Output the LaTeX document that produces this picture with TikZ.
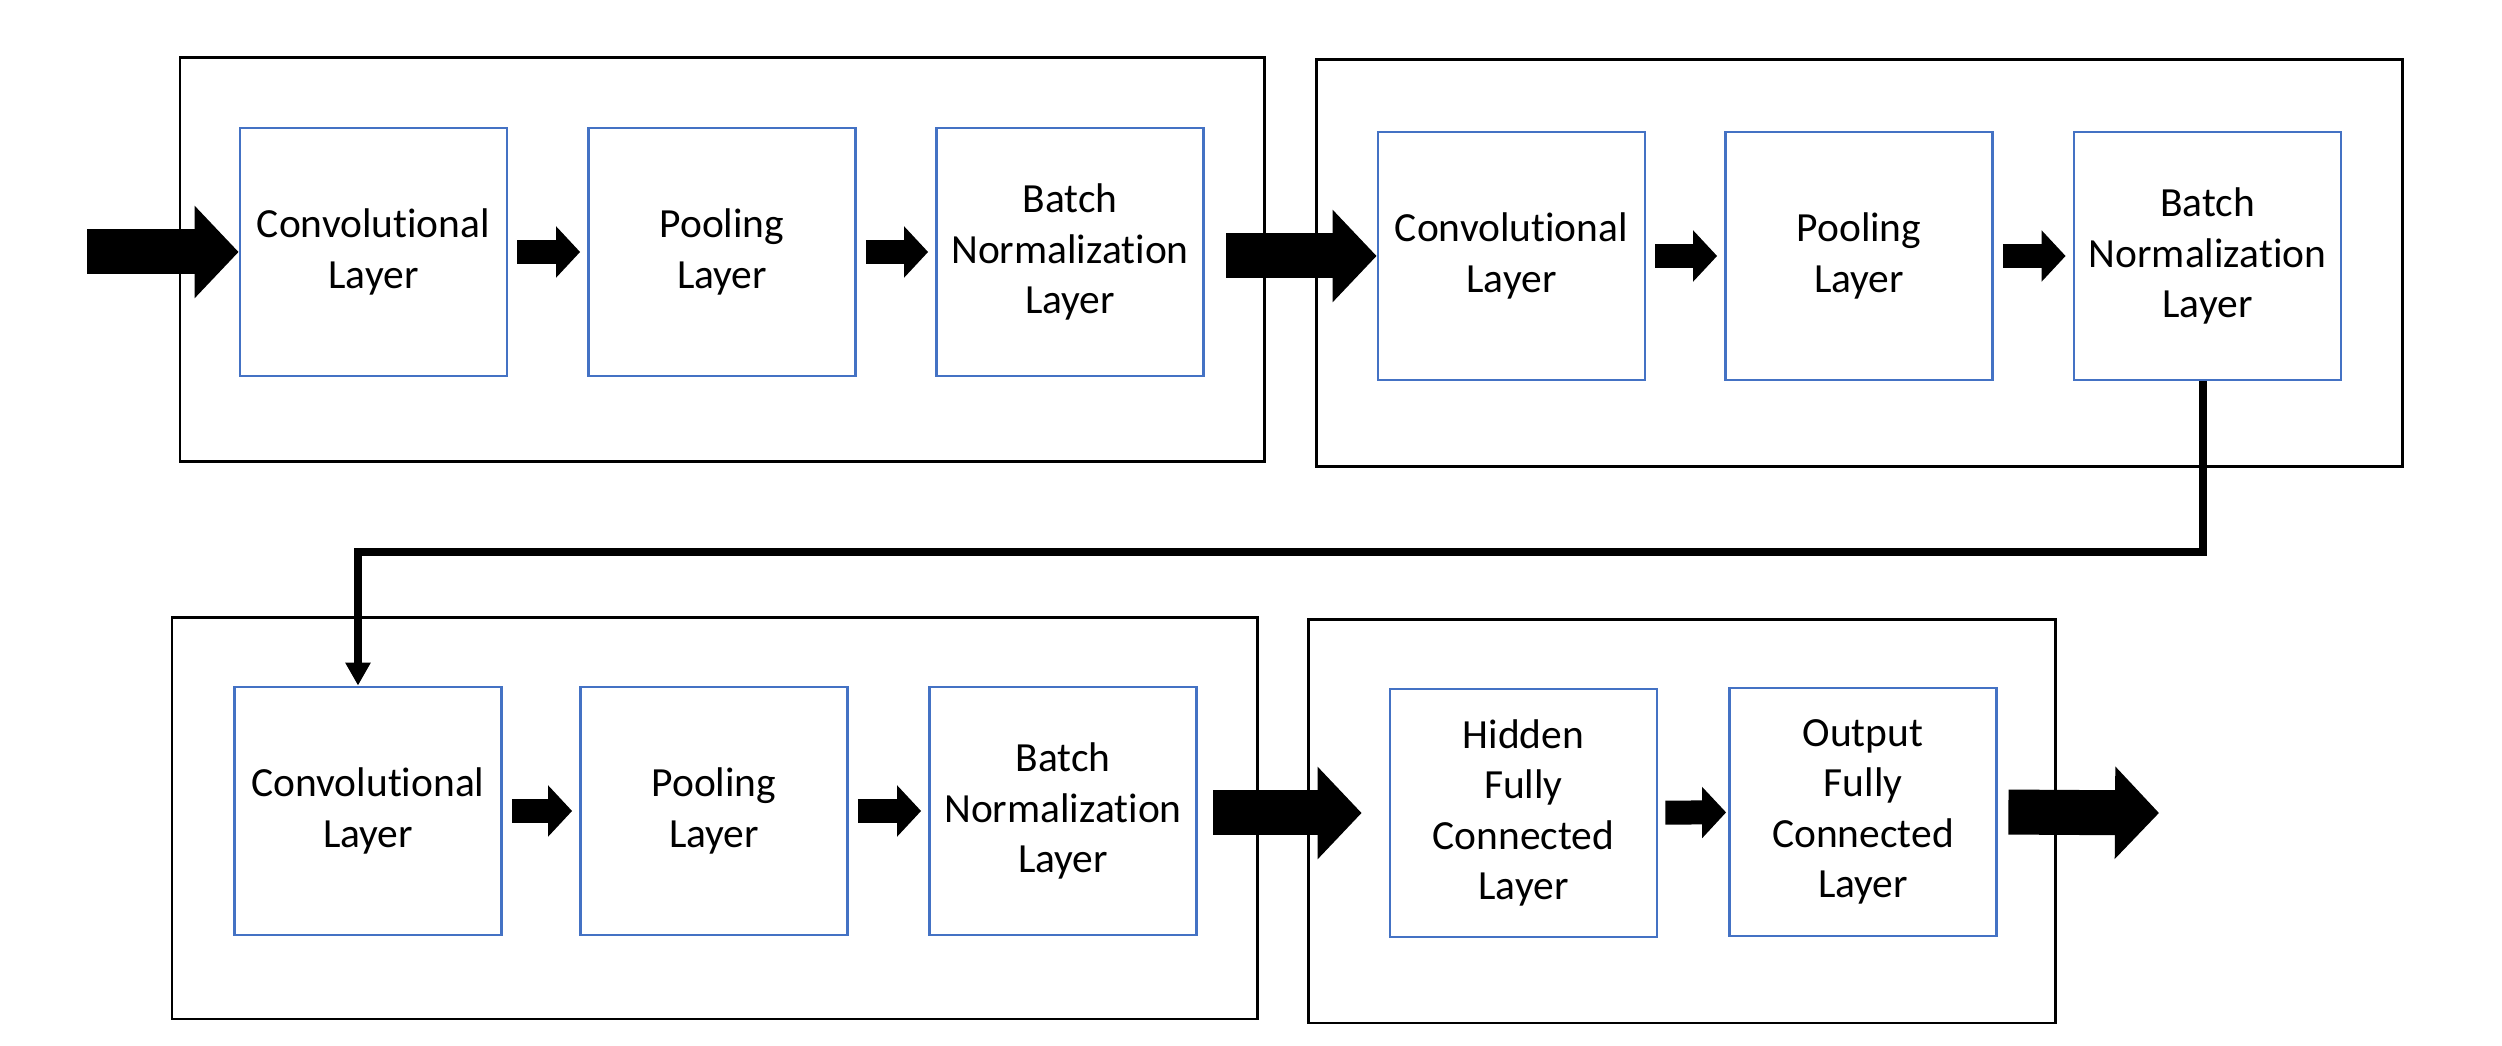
\documentclass[tikz,border=0pt]{standalone}
\usepackage{fontspec}
\setmainfont{Carlito}[Ligatures=NoCommon]
\usepackage{tikz}
\usetikzlibrary{arrows.meta}
\definecolor{layerblue}{HTML}{4472C4}
\tikzset{
	layer/.style={rectangle,draw=layerblue,line width=0.8pt,fill=white,inner sep=0pt,
		minimum width=2.67cm,minimum height=2.48cm,align=center,
		font=\fontsize{11.8pt}{14.3pt}\selectfont},
	block/.style={rectangle,draw=black,line width=0.85pt,inner sep=0pt},
	flow/.style={line width=0.24cm,-{Triangle[width=0.5cm,length=0.24cm]},shorten <=0.09cm,shorten >=0.07cm},
	bigflow/.style={line width=0.45cm,-{Triangle[width=0.9cm,length=0.44cm]}},
	link/.style={line width=0.08cm,-{Triangle[width=0.24cm,length=0.23cm]}},
	>=stealth,
	}

\begin{document}
\begin{tikzpicture}
\useasboundingbox (0,0) rectangle (25.02,-10.46);
%BLOCCHI
\node[block,minimum width=10.84cm,minimum height=4.04cm] (blk1) at (7.22,-2.60) {};
\node[block,minimum width=10.86cm,minimum height=4.07cm] (blk2) at (18.59,-2.635) {};
\node[block,minimum width=10.85cm,minimum height=4.01cm] (blk3) at (7.145,-8.185) {};
\node[block,minimum width=7.47cm,minimum height=4.03cm] (blk4) at (16.815,-8.215) {};
%LAYER
\node[layer] (conv1) at (3.735,-2.52) {Convolutional\\Layer};
\node[layer] (pool1) at (7.22,-2.52) {Pooling\\Layer};
\node[layer] (batch1) at (10.70,-2.52) {Batch\\Normalization\\Layer};
\node[layer] (conv2) at (15.115,-2.56) {Convolutional\\Layer};
\node[layer] (pool2) at (18.59,-2.56) {Pooling\\Layer};
\node[layer] (batch2) at (22.075,-2.56) {Batch\\Normalization\\Layer};
\node[layer] (conv3) at (3.68,-8.11) {Convolutional\\Layer};
\node[layer] (pool3) at (7.14,-8.11) {Pooling\\Layer};
\node[layer] (batch3) at (10.63,-8.11) {Batch\\Normalization\\Layer};
\node[layer] (hid) at (15.235,-8.13) {Hidden\\Fully\\Connected\\Layer};
\node[layer] (out) at (18.63,-8.12) {Output\\Fully\\Connected\\Layer};
%INGRESSO E USCITA
\coordinate (in) at (0.87,-2.52);
\coordinate (end) at (21.59,-8.13);
%FRECCE
\draw[bigflow] (in) -- (conv1.west);
\draw[flow] (conv1) -- (pool1);
\draw[flow] (pool1) -- (batch1);
\draw[bigflow,shorten <=0.215cm] (batch1.east |- conv2.west) -- (conv2.west);
\draw[flow] (conv2) -- (pool2);
\draw[flow] (pool2) -- (batch2);
\draw[link] ([xshift=-0.05cm]batch2.south) -- ++(0,-1.71) -| ([xshift=-0.1cm]conv3.north);
\draw[flow] (conv3) -- (pool3);
\draw[flow] (pool3) -- (batch3);
\draw[bigflow,shorten <=0.155cm,shorten >=0.27cm] (batch3.east |- hid.west) -- (hid.west);
\draw[flow,shorten <=0.07cm,shorten >=0.02cm] (hid) -- (out);
\draw[bigflow,shorten <=0.105cm] (out.east) -- (end);
\end{tikzpicture}
\end{document}
